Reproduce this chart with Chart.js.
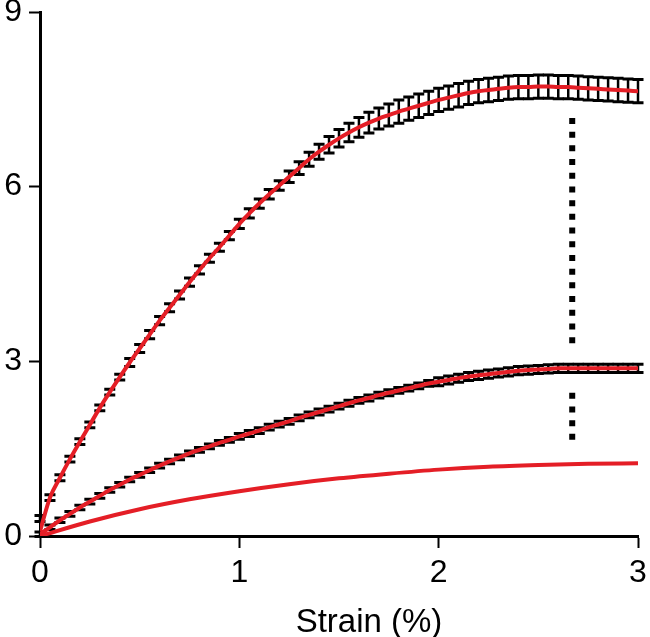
<!DOCTYPE html>
<html>
<head>
<meta charset="utf-8">
<script src="https://cdn.jsdelivr.net/npm/chart.js@4/dist/chart.umd.min.js"></script>
<style>
  html, body { margin: 0; padding: 0; background: #fff; }
  #wrap { width: 650px; height: 637px; position: relative; }
</style>
</head>
<body>
<div id="wrap"><canvas id="c" width="650" height="637"></canvas></div>
<script>
// ---- data ----
const strain = [0.00,0.05,0.10,0.15,0.20,0.25,0.30,0.35,0.40,0.45,0.50,0.55,0.60,0.65,0.70,0.75,0.80,0.85,0.90,0.95,
  1.00,1.05,1.10,1.15,1.20,1.25,1.30,1.35,1.40,1.45,1.50,1.55,1.60,1.65,1.70,1.75,1.80,1.85,1.90,1.95,
  2.00,2.05,2.10,2.15,2.20,2.25,2.30,2.35,2.40,2.45,2.50,2.55,2.60,2.65,2.70,2.75,2.80,2.85,2.90,2.95,3.00];

const upperMean = [0.30,0.66,1.00,1.32,1.62,1.91,2.20,2.47,2.73,2.98,3.22,3.46,3.70,3.92,4.14,4.36,4.57,4.77,4.96,5.16,
  5.36,5.54,5.71,5.87,6.02,6.17,6.32,6.47,6.60,6.72,6.83,6.93,7.02,7.10,7.17,7.23,7.29,7.34,7.39,7.44,
  7.49,7.53,7.57,7.61,7.64,7.66,7.68,7.70,7.71,7.71,7.72,7.72,7.71,7.71,7.70,7.69,7.68,7.67,7.66,7.65,7.64];
const upperErr = [0.05,0.05,0.05,0.05,0.05,0.05,0.05,0.05,0.05,0.07,0.07,0.07,0.07,0.07,0.07,0.07,0.07,0.07,0.07,0.07,
  0.08,0.08,0.08,0.08,0.08,0.10,0.11,0.12,0.13,0.14,0.15,0.16,0.17,0.18,0.18,0.19,0.20,0.20,0.20,0.20,
  0.20,0.20,0.20,0.20,0.20,0.20,0.20,0.20,0.20,0.20,0.20,0.20,0.20,0.20,0.20,0.20,0.20,0.20,0.20,0.20,0.20];
const upperFitOrigin = 0.08;

const middleMean = [0.03,0.15,0.27,0.38,0.49,0.59,0.69,0.79,0.88,0.97,1.05,1.13,1.21,1.28,1.35,1.42,1.48,1.54,1.60,1.65,
  1.71,1.76,1.81,1.87,1.92,1.97,2.03,2.08,2.13,2.18,2.23,2.28,2.33,2.37,2.42,2.46,2.50,2.54,2.58,2.62,
  2.65,2.68,2.71,2.74,2.76,2.78,2.80,2.82,2.84,2.85,2.86,2.87,2.88,2.88,2.88,2.88,2.88,2.88,2.88,2.88,2.88];
const middleErr = [0.04,0.04,0.04,0.04,0.04,0.04,0.04,0.04,0.04,0.04,0.04,0.04,0.04,0.04,0.04,0.04,0.04,0.04,0.04,0.04,
  0.05,0.05,0.05,0.05,0.05,0.05,0.05,0.05,0.05,0.05,0.05,0.05,0.05,0.05,0.05,0.05,0.05,0.05,0.05,0.05,
  0.07,0.07,0.07,0.07,0.07,0.07,0.07,0.07,0.07,0.07,0.07,0.07,0.07,0.07,0.07,0.07,0.07,0.07,0.07,0.07,0.07];

const lowerStrain = [0.00,0.25,0.50,0.75,1.00,1.25,1.50,1.75,2.00,2.25,2.50,2.75,3.00];
const lowerMean   = [0.00,0.25,0.46,0.63,0.77,0.89,0.99,1.07,1.14,1.19,1.22,1.24,1.25];

const markerStrain = 2.67;
const markerUpperSpan = [7.18, 3.28];
const markerLowerSpan = [2.46, 1.63];

const xTicks = [0, 1, 2, 3];
const yTicks = [0, 3, 6, 9];
const xTitle = 'Strain (%)';

// ---- build chart ----
const RED = 'rgb(228,30,38)';
const toPts = (xs, ys) => xs.map((x, i) => ({ x: x, y: ys[i] }));

const errorBarPlugin = {
  id: 'errorBars',
  beforeDatasetsDraw(chart) {
    const { ctx, scales: { x, y } } = chart;
    const sets = [[upperMean, upperErr], [middleMean, middleErr]];
    ctx.save();
    ctx.strokeStyle = '#000';
    sets.forEach(([m, e]) => {
      strain.forEach((s, i) => {
        const px = x.getPixelForValue(s);
        const top = y.getPixelForValue(m[i] + e[i]);
        const bot = y.getPixelForValue(m[i] - e[i]);
        ctx.lineWidth = 2.5;
        ctx.beginPath();
        ctx.moveTo(px, top); ctx.lineTo(px, bot);
        ctx.stroke();
        ctx.lineWidth = 3;
        ctx.beginPath();
        ctx.moveTo(px - 5.5, top); ctx.lineTo(px + 5.5, top);
        ctx.moveTo(px - 5.5, bot); ctx.lineTo(px + 5.5, bot);
        ctx.stroke();
      });
    });
    ctx.restore();
  }
};

const xTitlePlugin = {
  id: 'xTitle',
  afterDraw(chart) {
    const { ctx, chartArea } = chart;
    ctx.save();
    ctx.fillStyle = '#000';
    ctx.font = '33px "Liberation Sans", Arial, sans-serif';
    ctx.textAlign = 'center';
    ctx.textBaseline = 'alphabetic';
    ctx.fillText(xTitle, (chartArea.left + chartArea.right) / 2 + 30, 632);
    ctx.restore();
  }
};

const upperFit = toPts(strain, upperMean.map((v, i) => i === 0 ? upperFitOrigin : v));

new Chart(document.getElementById('c'), {
  type: 'line',
  data: {
    datasets: [
      { data: toPts([markerStrain, markerStrain], markerUpperSpan), borderColor: '#000', borderWidth: 6, borderDash: [6, 7.7], borderCapStyle: 'butt', pointRadius: 0 },
      { data: toPts([markerStrain, markerStrain], markerLowerSpan), borderColor: '#000', borderWidth: 6, borderDash: [6, 7.7], borderCapStyle: 'butt', pointRadius: 0 },
      { data: toPts(lowerStrain, lowerMean), borderColor: RED, borderWidth: 4, pointRadius: 0, cubicInterpolationMode: 'monotone' },
      { data: toPts(strain, middleMean), borderColor: RED, borderWidth: 4, pointRadius: 0, cubicInterpolationMode: 'monotone' },
      { data: upperFit, borderColor: RED, borderWidth: 4, pointRadius: 0, cubicInterpolationMode: 'monotone' }
    ]
  },
  options: {
    responsive: false,
    animation: false,
    events: [],
    layout: { padding: { left: 0, right: 12, top: 12, bottom: 0 } },
    plugins: { legend: { display: false }, tooltip: { enabled: false }, title: { display: false } },
    scales: {
      x: {
        type: 'linear', min: 0, max: 3,
        afterBuildTicks(s) { s.ticks = xTicks.map(v => ({ value: v })); },
        afterFit(s) { s.height = 101; s.paddingLeft = 0; s.paddingRight = 0; },
        border: { display: true, width: 3, color: '#000' },
        grid: { display: true, drawOnChartArea: false, drawTicks: true, tickLength: 12, tickWidth: 2, tickColor: '#000' },
        ticks: { color: '#000', padding: 6, maxRotation: 0, font: { family: '"Liberation Sans", Arial, sans-serif', size: 32 } }
      },
      y: {
        type: 'linear', min: 0, max: 9,
        afterBuildTicks(s) { s.ticks = yTicks.map(v => ({ value: v })); },
        afterFit(s) { s.width = 40; s.paddingTop = 0; s.paddingBottom = 0; },
        border: { display: true, width: 3, color: '#000' },
        grid: { display: true, drawOnChartArea: false, drawTicks: true, tickLength: 11, tickWidth: 2, tickColor: '#000' },
        ticks: { color: '#000', padding: 7, font: { family: '"Liberation Sans", Arial, sans-serif', size: 32 } }
      }
    }
  },
  plugins: [errorBarPlugin, xTitlePlugin]
});
</script>
</body>
</html>
